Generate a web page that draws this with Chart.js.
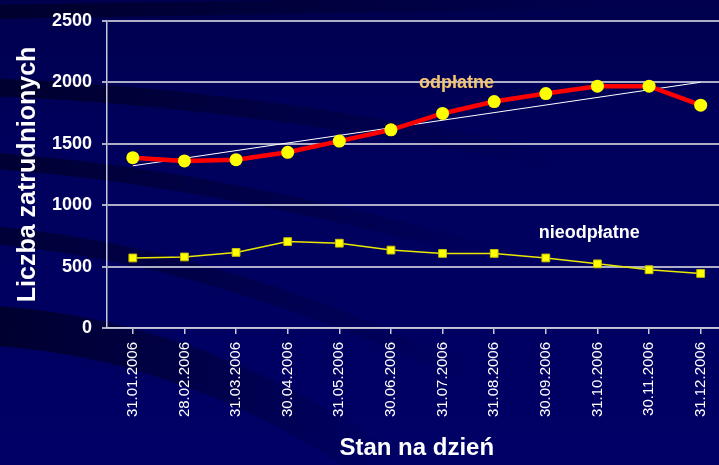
<!DOCTYPE html>
<html>
<head>
<meta charset="utf-8">
<script src="https://cdn.jsdelivr.net/npm/chart.js@4"></script>
<style>
  html, body { margin: 0; padding: 0; overflow: hidden; background: #000060; }
  #wrap { width: 733px; height: 465px; }
</style>
</head>
<body>
<div id="wrap"><canvas id="myChart" width="733" height="465"></canvas></div>
<script>
// Data
const dates = ['31.01.2006', '28.02.2006', '31.03.2006', '30.04.2006', '31.05.2006', '30.06.2006',
               '31.07.2006', '31.08.2006', '30.09.2006', '31.10.2006', '30.11.2006', '31.12.2006'];
const odplatne = [1386, 1360, 1370, 1430, 1521, 1613, 1746, 1843, 1908, 1968, 1968, 1813];
const nieodplatne = [570, 578, 615, 703, 690, 634, 607, 607, 570, 522, 474, 444];
const trend = [1320, null, null, null, null, null, null, null, null, null, null, 2000];
const yTicks = [0, 500, 1000, 1500, 2000, 2500];

// Series name labels placed inside the chart (category index, value)
const seriesLabels = [
    { text: 'odpłatne', x: 6.27, y: 1995, color: '#f5c46e' },
    { text: 'nieodpłatne', x: 8.84, y: 770, color: '#ffffff' }
];

// Draw the dark blue slide background with its swooshes
const backgroundPlugin = {
    id: 'slideBackground',
    beforeDraw(chart) {
        const ctx = chart.ctx;
        const w = chart.width, h = chart.height;
        ctx.save();
        let bg = ctx.createLinearGradient(0, 0, 0, h);
        bg.addColorStop(0, '#00004e');
        bg.addColorStop(0.3, '#00005c');
        bg.addColorStop(1, '#000066');
        ctx.fillStyle = bg;
        ctx.fillRect(0, 0, w, h);

        function band(points, width, alpha, fadeEnd) {
            let g = ctx.createLinearGradient(0, 0, fadeEnd, 0);
            g.addColorStop(0, 'rgba(0,0,30,' + alpha + ')');
            g.addColorStop(0.5, 'rgba(0,0,30,' + (alpha * 0.5) + ')');
            g.addColorStop(1, 'rgba(0,0,30,0)');
            ctx.strokeStyle = g;
            ctx.lineWidth = width;
            ctx.beginPath();
            ctx.moveTo(points[0], points[1]);
            ctx.quadraticCurveTo(points[2], points[3], points[4], points[5]);
            ctx.stroke();
        }
        band([-20, 12, 300, 8, 740, 0], 14, 0.7, 600);
        band([-20, 87, 300, 96, 740, 200], 18, 0.7, 560);
        band([-20, 160, 300, 180, 740, 330], 16, 0.65, 520);
        band([-20, 234, 250, 255, 560, 420], 18, 0.6, 480);
        band([-20, 325, 200, 335, 400, 480], 40, 0.75, 400);
        ctx.restore();
    }
};

// Write the series names next to their lines
const labelPlugin = {
    id: 'seriesLabels',
    afterDatasetsDraw(chart) {
        const ctx = chart.ctx;
        const xs = chart.scales.x, ys = chart.scales.y;
        ctx.save();
        ctx.font = 'bold 18px "Liberation Sans", Arial, sans-serif';
        ctx.textAlign = 'center';
        ctx.textBaseline = 'middle';
        seriesLabels.forEach(l => {
            ctx.fillStyle = l.color;
            ctx.fillText(l.text, xs.getPixelForValue(l.x), ys.getPixelForValue(l.y));
        });
        ctx.restore();
    }
};

new Chart(document.getElementById('myChart'), {
    type: 'line',
    data: {
        labels: dates,
        datasets: [{
            label: 'odpłatne',
            data: odplatne,
            borderColor: '#ff0000',
            borderWidth: 4.5,
            pointStyle: 'circle',
            pointRadius: 6.5,
            pointBackgroundColor: '#ffff00',
            pointBorderColor: '#ffff00',
            pointBorderWidth: 0,
            tension: 0
        }, {
            label: 'nieodpłatne',
            data: nieodplatne,
            borderColor: '#e8e800',
            borderWidth: 1.5,
            pointStyle: 'rect',
            pointRadius: 5.5,
            pointBackgroundColor: '#ffff00',
            pointBorderColor: '#c8c000',
            pointBorderWidth: 1,
            tension: 0
        }, {
            label: 'trend',
            data: trend,
            spanGaps: true,
            borderColor: '#ffffff',
            borderWidth: 1,
            pointRadius: 0,
            tension: 0
        }]
    },
    options: {
        responsive: false,
        animation: false,
        layout: { padding: { top: 18, right: 0, left: 0, bottom: 0 } },
        plugins: {
            legend: { display: false },
            tooltip: { enabled: false }
        },
        scales: {
            x: {
                offset: true,
                afterFit: s => { s.height = 137; },
                grid: {
                    drawOnChartArea: false,
                    drawTicks: true,
                    tickLength: 6,
                    color: '#c8c8d8',
                    lineWidth: 1.5
                },
                border: { color: '#c8c8d8', width: 1.5 },
                ticks: {
                    color: '#ffffff',
                    font: { family: '"Liberation Sans", Arial, sans-serif', size: 15 },
                    minRotation: 90,
                    maxRotation: 90,
                    padding: 8,
                    autoSkip: false
                },
                title: {
                    display: true,
                    text: 'Stan na dzień',
                    color: '#ffffff',
                    font: { family: '"Liberation Sans", Arial, sans-serif', size: 24, weight: 'bold' },
                    padding: { top: 0, bottom: 2 }
                }
            },
            y: {
                min: 0,
                max: 2500,
                afterFit: s => { s.width = 107; },
                afterBuildTicks: s => { s.ticks = yTicks.map(v => ({ value: v })); },
                grid: {
                    color: '#aeaec8',
                    lineWidth: 2,
                    tickLength: 5
                },
                border: { color: '#c8c8d8', width: 1.5 },
                ticks: {
                    color: '#ffffff',
                    font: { family: '"Liberation Sans", Arial, sans-serif', size: 18, weight: 'bold' },
                    padding: 10,
                    callback: v => String(v)
                },
                title: {
                    display: true,
                    text: 'Liczba zatrudnionych',
                    color: '#ffffff',
                    font: { family: '"Liberation Sans", Arial, sans-serif', size: 25, weight: 'bold' },
                    padding: { top: 13, bottom: 0 }
                }
            }
        }
    },
    plugins: [backgroundPlugin, labelPlugin]
});
</script>
</body>
</html>
